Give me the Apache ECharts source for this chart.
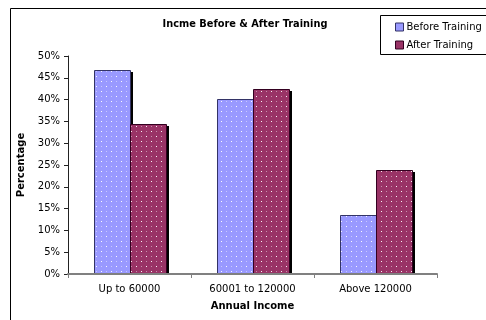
<!DOCTYPE html>
<html>
<head>
<meta charset="utf-8">
<script src="https://cdn.jsdelivr.net/npm/echarts@6/dist/echarts.min.js"></script>
<style>
  html, body { margin: 0; padding: 0; background: #fff; }
  #chart { width: 486px; height: 320px; }
</style>
</head>
<body>
<div id="chart"></div>
<script>
// Income bracket shares before and after the training programme (percent)
const categories = ['Up to 60000', '60001 to 120000', 'Above 120000'];
const beforeTraining = [46.7, 40.2, 13.5];
const afterTraining = [34.3, 42.5, 23.9];
const yTicks = [0, 5, 10, 15, 20, 25, 30, 35, 40, 45, 50];

const FONT = 'DejaVu Sans';
const BEFORE_COLOR = '#9999FF', BEFORE_EDGE = '#333366';
const AFTER_COLOR = '#993366', AFTER_EDGE = '#330020';

// Small tiled canvas: solid base colour sprinkled with white dots
function dottedFill(base) {
  const c = document.createElement('canvas');
  c.width = 10; c.height = 10;
  const g = c.getContext('2d');
  g.fillStyle = base;
  g.fillRect(0, 0, 10, 10);
  g.fillStyle = 'rgba(255,255,255,0.95)';
  g.fillRect(1, 1, 1, 1);
  g.fillRect(6, 6, 1, 1);
  g.fillStyle = 'rgba(255,255,255,0.45)';
  g.fillRect(6, 1, 1, 1);
  g.fillRect(1, 6, 1, 1);
  return { image: c, repeat: 'repeat' };
}

// Clustered bar with a hard black drop shadow; slot 0 sits left of the
// category centre, slot 1 right of it.
function barRenderer(slot, fill, edge) {
  const pattern = dottedFill(fill);
  return function (params, api) {
    const cat = api.value(0);
    const val = api.value(1);
    const base = api.coord([cat, 0]);
    const top = api.coord([cat, val]);
    const band = api.size([1, 0])[0];
    const w = Math.round(band * 0.58 / 2);
    const x0 = Math.round(base[0]) - w + slot * w;
    const y0 = Math.round(top[1]);
    const h = Math.round(base[1]) - y0;
    return {
      type: 'group',
      children: [
        {
          type: 'rect',
          shape: { x: x0 + 3, y: y0 + 2, width: w, height: h - 2 },
          style: { fill: '#000' }
        },
        {
          type: 'rect',
          shape: { x: x0 + 0.5, y: y0 + 0.5, width: w, height: h },
          style: { fill: pattern, stroke: edge, lineWidth: 1 }
        }
      ]
    };
  };
}

const beforeData = beforeTraining.map((v, i) => [i, v]);
const afterData = afterTraining.map((v, i) => [i, v]);

const chart = echarts.init(document.getElementById('chart'), null, { renderer: 'canvas' });

chart.setOption({
  animation: false,
  backgroundColor: '#fff',
  title: {
    text: 'Incme Before & After Training',
    left: 240,
    top: 14,
    textAlign: 'center',
    textStyle: { fontFamily: FONT, fontSize: 9.8, fontWeight: 'bold', color: '#000' }
  },
  legend: {
    orient: 'vertical',
    left: 390,
    top: 17,
    itemWidth: 8,
    itemHeight: 8,
    itemGap: 8,
    icon: 'rect',
    textStyle: { fontFamily: FONT, fontSize: 10, color: '#000', padding: [0, 0, 0, -2] },
    data: [
      { name: 'Before Training', itemStyle: { color: BEFORE_COLOR, borderColor: BEFORE_EDGE, borderWidth: 1 } },
      { name: 'After Training', itemStyle: { color: AFTER_COLOR, borderColor: AFTER_EDGE, borderWidth: 1 } }
    ]
  },
  graphic: [
    {
      type: 'rect',
      shape: { x: 10.5, y: 8.5, width: 500, height: 400 },
      style: { fill: 'none', stroke: '#000', lineWidth: 1 },
      silent: true,
      z: -1
    },
    {
      type: 'rect',
      shape: { x: 380.5, y: 15.5, width: 120, height: 39 },
      style: { fill: 'none', stroke: '#000', lineWidth: 1 },
      silent: true
    }
  ],
  grid: { left: 68, top: 56, right: 49, bottom: 46 },
  xAxis: {
    type: 'category',
    data: categories,
    name: 'Annual Income',
    nameLocation: 'middle',
    nameGap: 27,
    nameTextStyle: { fontFamily: FONT, fontSize: 10, fontWeight: 'bold', color: '#000' },
    axisLine: { lineStyle: { color: '#808080', width: 2 } },
    axisTick: { show: true, length: 4, lineStyle: { color: '#808080' } },
    axisLabel: { fontFamily: FONT, fontSize: 10, color: '#000', margin: 10 },
    z: 5
  },
  yAxis: {
    type: 'value',
    min: yTicks[0],
    max: yTicks[yTicks.length - 1],
    interval: 5,
    name: 'Percentage',
    nameLocation: 'middle',
    nameGap: 37,
    nameTextStyle: { fontFamily: FONT, fontSize: 10, fontWeight: 'bold', color: '#000' },
    axisLine: { show: true, lineStyle: { color: '#222', width: 1 } },
    axisTick: { show: true, length: 4, lineStyle: { color: '#222' } },
    splitLine: { show: false },
    axisLabel: {
      fontFamily: FONT, fontSize: 10, color: '#000', margin: 8,
      formatter: v => v + '%'
    }
  },
  series: [
    {
      name: 'Before Training',
      type: 'custom',
      data: beforeData,
      encode: { x: 0, y: 1 },
      itemStyle: { color: BEFORE_COLOR },
      renderItem: barRenderer(0, BEFORE_COLOR, BEFORE_EDGE)
    },
    {
      name: 'After Training',
      type: 'custom',
      data: afterData,
      encode: { x: 0, y: 1 },
      itemStyle: { color: AFTER_COLOR },
      renderItem: barRenderer(1, AFTER_COLOR, AFTER_EDGE)
    }
  ]
});
</script>
</body>
</html>
